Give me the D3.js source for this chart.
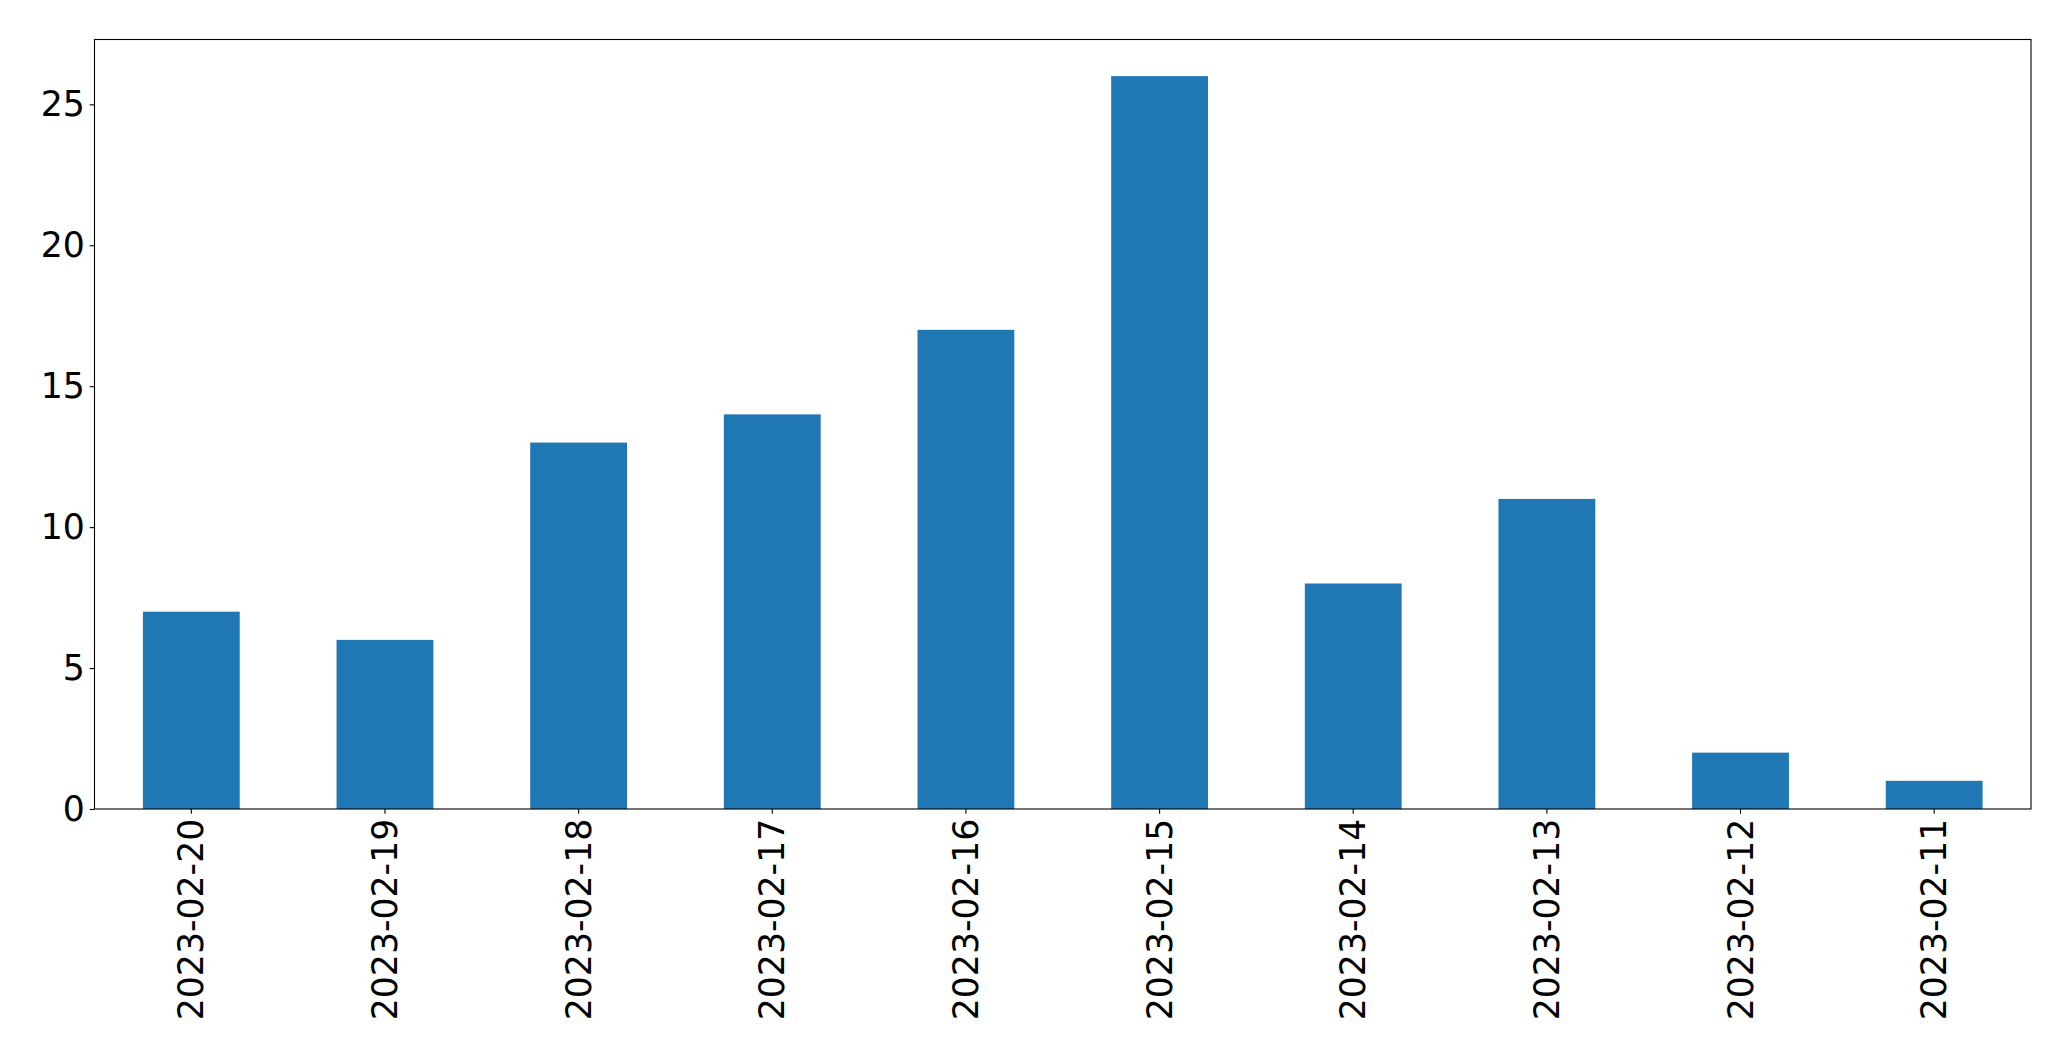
<!DOCTYPE html>
<html>
<head>
<meta charset="utf-8">
<script src="https://cdn.jsdelivr.net/npm/d3@7"></script>
<style>
  html, body { margin: 0; padding: 0; background: #fff; }
  svg { display: block; }
  text { font-family: "DejaVu Sans", sans-serif; fill: #000; }
</style>
</head>
<body>
<svg id="chart" width="2071" height="1061"></svg>
<script>
const categories = ["2023-02-20","2023-02-19","2023-02-18","2023-02-17","2023-02-16","2023-02-15","2023-02-14","2023-02-13","2023-02-12","2023-02-11"];
const values = [7, 6, 13, 14, 17, 26, 8, 11, 2, 1];
const yTicks = [0, 5, 10, 15, 20, 25];

const W = 2071, H = 1061;
const margin = { left: 94.5, right: 40, top: 39.5, bottom: 252 };
const plotW = 2031 - margin.left;
const plotH = 809 - margin.top;

const svg = d3.select("#chart");
const g = svg.append("g").attr("transform", `translate(${margin.left},${margin.top})`);

const x = d3.scaleBand().domain(categories).range([0, plotW]).paddingInner(0.5).paddingOuter(0.25);
const yMax = d3.max(values) * 1.05;
const y = d3.scaleLinear().domain([0, yMax]).range([plotH, 0]);

g.selectAll("rect.bar").data(values).enter().append("rect")
  .attr("class", "bar")
  .attr("x", (d, i) => x(categories[i]))
  .attr("width", x.bandwidth())
  .attr("y", d => y(d))
  .attr("height", d => plotH - y(d))
  .attr("fill", "#1f77b4");

const fontSize = 34.7;
const tickLen = 4.86;
const pad = 4.86;

// Y axis
const yAxis = d3.axisLeft(y).tickValues(yTicks).tickSize(tickLen).tickPadding(pad).tickFormat(d3.format("d"));
const yg = g.append("g").call(yAxis);
yg.select(".domain").remove();
yg.selectAll("line").attr("stroke", "#000").attr("stroke-width", 1.1);
yg.selectAll("text").style("font-size", fontSize + "px").style("font-family", "DejaVu Sans");

// X axis
const xAxis = d3.axisBottom(x).tickSize(tickLen).tickPadding(pad);
const xg = g.append("g").attr("transform", `translate(0,${plotH})`).call(xAxis);
xg.select(".domain").remove();
xg.selectAll("line").attr("stroke", "#000").attr("stroke-width", 1.1);
xg.selectAll("text")
  .style("font-size", fontSize + "px")
  .style("font-family", "DejaVu Sans")
  .attr("text-anchor", "end")
  .attr("dy", "0.35em")
  .attr("transform", `translate(0,${tickLen + pad}) rotate(-90)`)
  .attr("x", 0)
  .attr("y", 0);

// Frame
g.append("rect")
  .attr("x", 0).attr("y", 0)
  .attr("width", plotW).attr("height", plotH)
  .attr("fill", "none").attr("stroke", "#000").attr("stroke-width", 1.1);
</script>
</body>
</html>
